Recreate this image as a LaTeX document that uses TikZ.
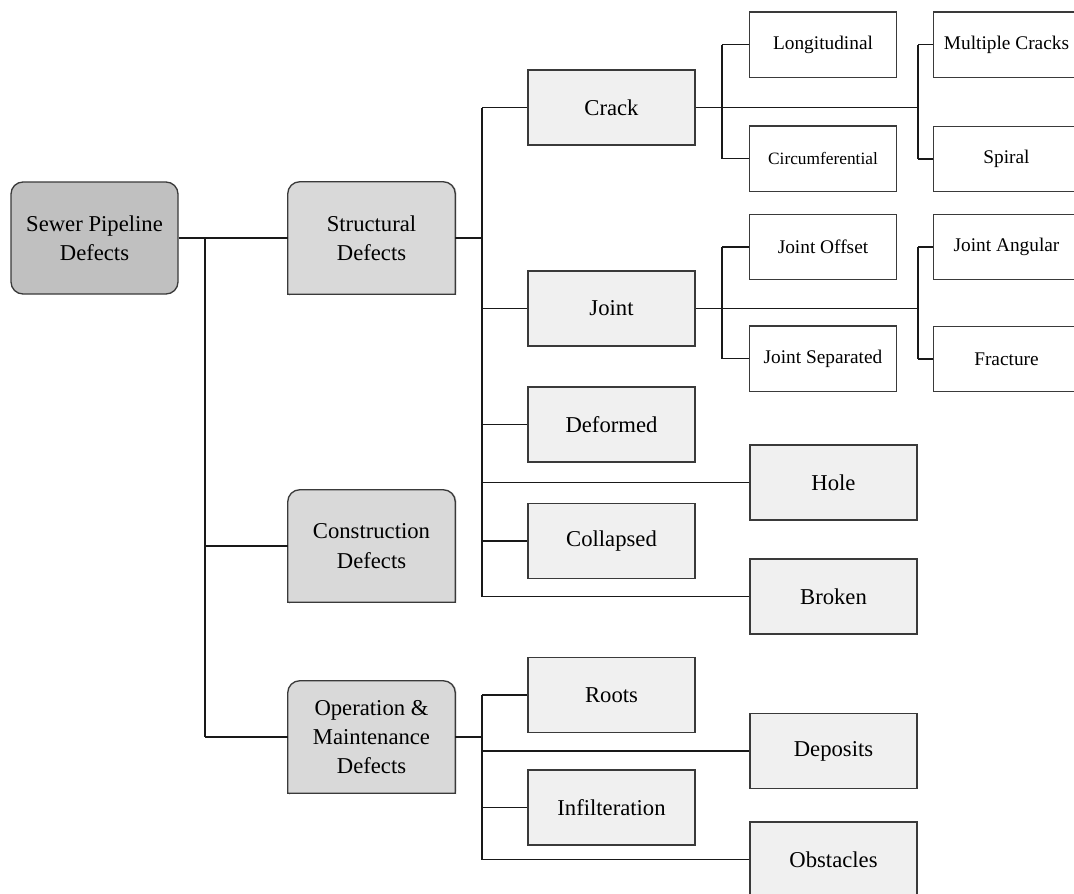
\documentclass[tikz,border=0pt]{standalone}
\usepackage{fontspec}
\setmainfont{Liberation Serif}
\usetikzlibrary{backgrounds}
\definecolor{rootfill}{HTML}{C0C0C0}
\definecolor{catfill}{HTML}{D9D9D9}
\definecolor{midfill}{HTML}{F0F0F0}
\definecolor{edge}{HTML}{3A3A3A}
\tikzset{
  big/.style={font=\fontsize{17}{22}\selectfont, align=center, inner sep=0pt},
  rootbox/.style={big, draw=edge, line width=1pt, fill=rootfill, rounded corners=9pt,
     minimum width=125.25pt, minimum height=84pt},
  catbox/.style={big, minimum width=125.25pt, minimum height=84pt},
  catshape/.style={draw=edge, line width=1pt, fill=catfill},
  midbox/.style={big, draw=edge, line width=1pt, fill=midfill,
     minimum width=125.25pt, minimum height=56.25pt},
  smallbox/.style={font=\fontsize{14.5}{18}\selectfont, draw=edge, line width=1pt, fill=white,
     inner sep=0pt, minimum width=110pt, minimum height=49pt},
  conn/.style={draw=black!90, line width=0.9pt}
}
\newcommand{\topround}[1]{%
  \begin{scope}[on background layer]
  \fill[black!30,opacity=0.6] ([xshift=1pt,yshift=-1.2pt]#1.south west) -- ([xshift=1pt,yshift=-9pt]#1.north west) arc[start angle=180,end angle=90,radius=9pt]
     -- ([xshift=-9pt]#1.north east) ++(1pt,0) arc[start angle=90,end angle=0,radius=9pt] -- ([xshift=1pt,yshift=-1.2pt]#1.south east) -- cycle;
  \draw[catshape] (#1.south west) -- ([yshift=-9pt]#1.north west) arc[start angle=180,end angle=90,radius=9pt]
     -- ([xshift=-9pt]#1.north east) arc[start angle=90,end angle=0,radius=9pt] -- (#1.south east) -- cycle;
  \end{scope}}
\begin{document}
\begin{tikzpicture}[x=0.75pt,y=-0.75pt]
\useasboundingbox (0,0) rectangle (1074,893);
\begin{scope}[on background layer]
\fill[white] (0,0) rectangle (1074,893);
\end{scope}
% level 0
\node[rootbox] (root) at (94.5,238) {Sewer Pipeline\\Defects};
% level 1
\node[catbox] (str) at (371.5,238) {Structural\\Defects};
\node[catbox] (con) at (371.5,546) {Construction\\Defects};
\node[catbox] (ops) at (371.5,737) {Operation \&\\Maintenance\\Defects};
\topround{str}\topround{con}\topround{ops}
% level 2
\node[midbox] (crack) at (611.5,107.5) {Crack};
\node[midbox] (joint) at (611.5,308.5) {Joint};
\node[midbox] (deformed) at (611.5,424.5) {Deformed};
\node[midbox] (hole) at (833.5,482.5) {Hole};
\node[midbox] (collapsed) at (611.5,541) {Collapsed};
\node[midbox] (broken) at (833.5,596.5) {Broken};
\node[midbox] (roots) at (611.5,695) {Roots};
\node[midbox] (deposits) at (833.5,751) {Deposits};
\node[midbox] (infil) at (611.5,807.5) {Infilteration};
\node[midbox] (obst) at (833.5,859.5) {Obstacles};
% level 3
\node[smallbox] (long) at (823,44.5) {Longitudinal};
\node[smallbox, font=\fontsize{13}{16}\selectfont] (circ) at (823,158.5) {Circumferential};
\node[smallbox] (multi) at (1006.5,44.5) {Multiple Cracks};
\node[smallbox] (spiral) at (1006.5,159) {Spiral};
\node[smallbox] (joff) at (823,247) {Joint Offset};
\node[smallbox] (jsep) at (823,358.5) {Joint Separated};
\node[smallbox] (jang) at (1006.5,247) {Joint Angular};
\node[smallbox] (frac) at (1006.5,359) {Fracture};
% bus coordinates
\coordinate (b1) at (205,238);
\coordinate (b2) at (482,0);
\coordinate (b3) at (722,0);
\coordinate (b4) at (918,0);
% root connectors
\draw[conn] (root.east) -- (str.west);
\draw[conn] (b1) -- (b1 |- ops);
\draw[conn] (b1 |- con) -- (con.west);
\draw[conn] (b1 |- ops) -- (ops.west);
% structural
\draw[conn] (str.east) -- (b2 |- str);
\draw[conn] (b2 |- crack) -- (b2 |- broken);
\foreach \n in {crack,joint,deformed,hole,collapsed,broken}
  \draw[conn] (b2 |- \n) -- (\n.west);
% operation
\draw[conn] (ops.east) -- (b2 |- ops);
\draw[conn] (b2 |- roots) -- (b2 |- obst);
\foreach \n in {roots,deposits,infil,obst}
  \draw[conn] (b2 |- \n) -- (\n.west);
% crack
\draw[conn] (crack.east) -- (b4 |- crack);
\draw[conn] (b3 |- long) -- (b3 |- circ);
\draw[conn] (b4 |- multi) -- (b4 |- spiral);
\foreach \n in {long,circ}
  \draw[conn] (b3 |- \n) -- (\n.west);
\foreach \n in {multi,spiral}
  \draw[conn] (b4 |- \n) -- (\n.west);
% joint
\draw[conn] (joint.east) -- (b4 |- joint);
\draw[conn] (b3 |- joff) -- (b3 |- jsep);
\draw[conn] (b4 |- jang) -- (b4 |- frac);
\foreach \n in {joff,jsep}
  \draw[conn] (b3 |- \n) -- (\n.west);
\foreach \n in {jang,frac}
  \draw[conn] (b4 |- \n) -- (\n.west);
\end{tikzpicture}
\end{document}
